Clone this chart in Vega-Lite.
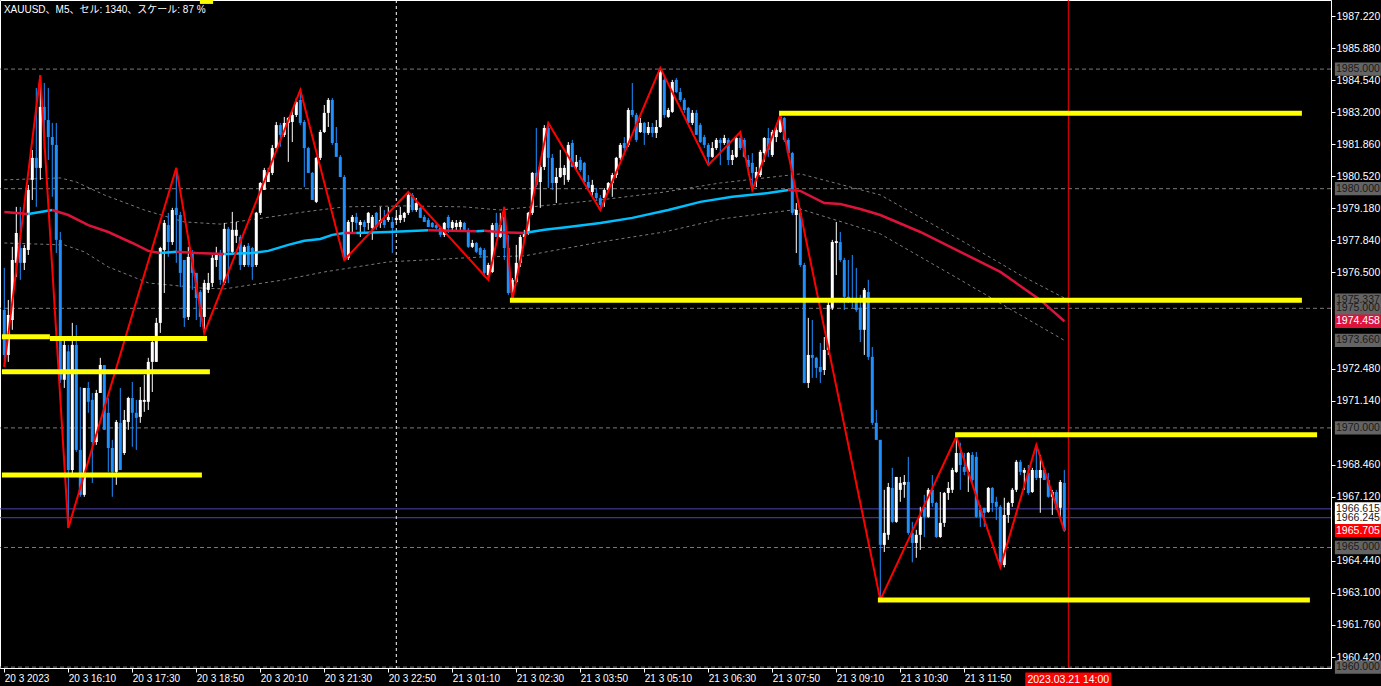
{
"$schema": "https://vega.github.io/schema/vega-lite/v6.json",
"width": 1331, "height": 668,
"autosize": {"type": "none"},
"padding": {"left": 0, "top": 0, "right": 50, "bottom": 18},
"background": "#000000",
"config": {
 "view": {"stroke": "#ffffff", "strokeWidth": 1},
 "axis": {"labelColor": "#ffffff", "tickColor": "#ffffff", "domainColor": "#ffffff", "labelFont": "Liberation Sans", "labelFontSize": 10.5, "grid": false, "tickSize": 4}
},
"datasets": {
 "candles": [
{"i":0,"o":1974.93,"h":1976.69,"l":1972.55,"c":1973.05},
{"i":1,"o":1973.05,"h":1975.35,"l":1972.76,"c":1974.72},
{"i":2,"o":1974.51,"h":1977.57,"l":1974.10,"c":1977.02},
{"i":3,"o":1976.90,"h":1979.24,"l":1976.31,"c":1978.15},
{"i":4,"o":1977.52,"h":1979.24,"l":1976.19,"c":1976.90},
{"i":5,"o":1976.90,"h":1977.65,"l":1976.60,"c":1977.52},
{"i":6,"o":1977.44,"h":1980.16,"l":1977.23,"c":1979.95},
{"i":7,"o":1980.37,"h":1981.62,"l":1979.53,"c":1981.29},
{"i":8,"o":1981.29,"h":1984.21,"l":1979.24,"c":1980.87},
{"i":9,"o":1980.87,"h":1984.75,"l":1980.37,"c":1983.42},
{"i":10,"o":1983.42,"h":1984.42,"l":1981.62,"c":1982.87},
{"i":11,"o":1982.87,"h":1984.21,"l":1981.20,"c":1982.16},
{"i":12,"o":1982.16,"h":1982.75,"l":1979.66,"c":1981.83},
{"i":13,"o":1981.83,"h":1982.75,"l":1977.31,"c":1977.86},
{"i":14,"o":1977.86,"h":1978.19,"l":1971.88,"c":1972.01},
{"i":15,"o":1972.01,"h":1973.68,"l":1971.67,"c":1973.47},
{"i":16,"o":1973.20,"h":1973.47,"l":1965.82,"c":1968.24},
{"i":17,"o":1968.24,"h":1974.39,"l":1967.95,"c":1973.47},
{"i":18,"o":1973.47,"h":1974.30,"l":1969.00,"c":1969.08},
{"i":19,"o":1969.08,"h":1971.71,"l":1967.12,"c":1967.20},
{"i":20,"o":1967.20,"h":1971.67,"l":1967.12,"c":1971.67},
{"i":21,"o":1971.67,"h":1971.92,"l":1970.63,"c":1971.09},
{"i":22,"o":1971.17,"h":1971.46,"l":1967.70,"c":1969.41},
{"i":23,"o":1969.41,"h":1971.59,"l":1969.29,"c":1971.46},
{"i":24,"o":1971.46,"h":1972.93,"l":1971.46,"c":1972.63},
{"i":25,"o":1972.63,"h":1972.63,"l":1969.92,"c":1969.92},
{"i":26,"o":1970.63,"h":1971.25,"l":1968.16,"c":1969.16},
{"i":27,"o":1969.16,"h":1969.50,"l":1967.12,"c":1968.16},
{"i":28,"o":1968.16,"h":1970.33,"l":1967.62,"c":1970.25},
{"i":29,"o":1970.21,"h":1971.67,"l":1968.24,"c":1968.24},
{"i":30,"o":1968.95,"h":1970.75,"l":1968.87,"c":1970.33},
{"i":31,"o":1970.25,"h":1971.30,"l":1969.92,"c":1971.25},
{"i":32,"o":1971.25,"h":1971.92,"l":1969.21,"c":1970.63},
{"i":33,"o":1970.63,"h":1971.17,"l":1969.08,"c":1970.42},
{"i":34,"o":1970.46,"h":1971.71,"l":1970.21,"c":1971.17},
{"i":35,"o":1971.09,"h":1972.21,"l":1970.67,"c":1971.17},
{"i":36,"o":1971.09,"h":1972.93,"l":1970.75,"c":1972.76},
{"i":37,"o":1972.76,"h":1973.80,"l":1971.50,"c":1973.59},
{"i":38,"o":1972.76,"h":1974.60,"l":1972.76,"c":1974.39},
{"i":39,"o":1974.39,"h":1977.57,"l":1973.97,"c":1977.52},
{"i":40,"o":1977.44,"h":1978.69,"l":1975.64,"c":1978.57},
{"i":41,"o":1978.48,"h":1978.99,"l":1977.15,"c":1977.77},
{"i":42,"o":1977.77,"h":1979.20,"l":1977.65,"c":1979.11},
{"i":43,"o":1979.20,"h":1980.87,"l":1976.90,"c":1978.90},
{"i":44,"o":1978.90,"h":1979.03,"l":1975.89,"c":1976.48},
{"i":45,"o":1977.02,"h":1977.02,"l":1974.22,"c":1974.60},
{"i":46,"o":1974.64,"h":1977.57,"l":1974.51,"c":1977.15},
{"i":47,"o":1977.31,"h":1977.44,"l":1975.77,"c":1976.48},
{"i":48,"o":1976.48,"h":1976.48,"l":1974.51,"c":1975.43},
{"i":49,"o":1975.68,"h":1975.77,"l":1974.22,"c":1974.64},
{"i":50,"o":1974.64,"h":1976.19,"l":1973.97,"c":1976.06},
{"i":51,"o":1975.77,"h":1976.48,"l":1975.64,"c":1976.06},
{"i":52,"o":1976.06,"h":1977.23,"l":1975.89,"c":1977.11},
{"i":53,"o":1977.02,"h":1977.57,"l":1976.73,"c":1977.23},
{"i":54,"o":1977.23,"h":1977.44,"l":1975.98,"c":1976.19},
{"i":55,"o":1976.06,"h":1978.57,"l":1975.98,"c":1978.32},
{"i":56,"o":1978.32,"h":1978.40,"l":1976.06,"c":1977.36},
{"i":57,"o":1977.36,"h":1979.03,"l":1977.31,"c":1978.28},
{"i":58,"o":1978.03,"h":1978.61,"l":1977.73,"c":1978.28},
{"i":59,"o":1977.98,"h":1978.07,"l":1976.60,"c":1976.81},
{"i":60,"o":1976.81,"h":1977.65,"l":1976.73,"c":1977.57},
{"i":61,"o":1977.61,"h":1977.73,"l":1976.73,"c":1976.81},
{"i":62,"o":1977.52,"h":1977.57,"l":1976.19,"c":1976.73},
{"i":63,"o":1976.81,"h":1979.03,"l":1976.73,"c":1978.99},
{"i":64,"o":1978.99,"h":1980.28,"l":1978.90,"c":1980.24},
{"i":65,"o":1979.95,"h":1980.87,"l":1979.95,"c":1980.78},
{"i":66,"o":1980.28,"h":1980.87,"l":1980.28,"c":1980.70},
{"i":67,"o":1980.66,"h":1981.83,"l":1980.57,"c":1981.70},
{"i":68,"o":1981.70,"h":1982.79,"l":1981.62,"c":1982.66},
{"i":69,"o":1982.66,"h":1982.75,"l":1981.75,"c":1982.25},
{"i":70,"o":1982.25,"h":1983.00,"l":1982.16,"c":1982.75},
{"i":71,"o":1982.75,"h":1983.00,"l":1981.12,"c":1982.96},
{"i":72,"o":1982.79,"h":1983.29,"l":1981.95,"c":1983.08},
{"i":73,"o":1983.08,"h":1983.79,"l":1983.00,"c":1983.63},
{"i":74,"o":1983.71,"h":1984.13,"l":1982.66,"c":1982.75},
{"i":75,"o":1982.79,"h":1982.87,"l":1980.07,"c":1981.70},
{"i":76,"o":1981.70,"h":1981.75,"l":1980.66,"c":1980.66},
{"i":77,"o":1980.66,"h":1980.70,"l":1979.53,"c":1979.53},
{"i":78,"o":1979.45,"h":1981.33,"l":1979.40,"c":1981.29},
{"i":79,"o":1981.29,"h":1982.46,"l":1981.20,"c":1982.37},
{"i":80,"o":1982.37,"h":1983.50,"l":1982.33,"c":1983.17},
{"i":81,"o":1983.17,"h":1983.79,"l":1982.58,"c":1983.71},
{"i":82,"o":1983.71,"h":1983.79,"l":1981.83,"c":1981.91},
{"i":83,"o":1981.91,"h":1982.58,"l":1981.33,"c":1981.33},
{"i":84,"o":1981.33,"h":1981.41,"l":1980.49,"c":1980.49},
{"i":85,"o":1980.49,"h":1980.57,"l":1977.02,"c":1977.11},
{"i":86,"o":1977.11,"h":1978.69,"l":1977.02,"c":1978.61},
{"i":87,"o":1978.61,"h":1978.90,"l":1978.15,"c":1978.82},
{"i":88,"o":1978.82,"h":1978.99,"l":1978.28,"c":1978.57},
{"i":89,"o":1978.48,"h":1978.69,"l":1977.98,"c":1978.61},
{"i":90,"o":1978.61,"h":1978.69,"l":1978.15,"c":1978.40},
{"i":91,"o":1978.57,"h":1979.03,"l":1978.28,"c":1978.99},
{"i":92,"o":1978.36,"h":1978.90,"l":1977.86,"c":1978.82},
{"i":93,"o":1978.99,"h":1979.03,"l":1978.28,"c":1978.40},
{"i":94,"o":1978.57,"h":1979.24,"l":1978.36,"c":1978.69},
{"i":95,"o":1978.69,"h":1979.11,"l":1978.36,"c":1978.48},
{"i":96,"o":1978.69,"h":1979.24,"l":1978.61,"c":1978.82},
{"i":97,"o":1978.61,"h":1978.82,"l":1977.31,"c":1978.36},
{"i":98,"o":1978.69,"h":1978.99,"l":1978.57,"c":1978.78},
{"i":99,"o":1978.69,"h":1979.24,"l":1978.57,"c":1978.90},
{"i":100,"o":1978.78,"h":1979.03,"l":1978.61,"c":1978.99},
{"i":101,"o":1978.99,"h":1979.86,"l":1978.90,"c":1979.74},
{"i":102,"o":1979.74,"h":1979.82,"l":1979.03,"c":1979.11},
{"i":103,"o":1979.11,"h":1979.61,"l":1979.03,"c":1979.40},
{"i":104,"o":1979.20,"h":1979.24,"l":1978.78,"c":1978.78},
{"i":105,"o":1978.82,"h":1978.90,"l":1978.61,"c":1978.61},
{"i":106,"o":1978.69,"h":1978.78,"l":1978.40,"c":1978.40},
{"i":107,"o":1978.57,"h":1978.61,"l":1978.36,"c":1978.40},
{"i":108,"o":1978.48,"h":1978.57,"l":1978.28,"c":1978.36},
{"i":109,"o":1978.36,"h":1978.40,"l":1977.98,"c":1978.07},
{"i":110,"o":1978.07,"h":1978.61,"l":1977.98,"c":1978.57},
{"i":111,"o":1978.82,"h":1978.90,"l":1978.15,"c":1978.36},
{"i":112,"o":1978.36,"h":1978.69,"l":1978.19,"c":1978.61},
{"i":113,"o":1978.40,"h":1978.69,"l":1978.19,"c":1978.57},
{"i":114,"o":1978.40,"h":1978.69,"l":1978.28,"c":1978.61},
{"i":115,"o":1978.57,"h":1978.61,"l":1978.19,"c":1978.28},
{"i":116,"o":1978.28,"h":1978.36,"l":1977.52,"c":1977.57},
{"i":117,"o":1977.57,"h":1977.86,"l":1977.52,"c":1977.73},
{"i":118,"o":1977.73,"h":1977.77,"l":1977.31,"c":1977.36},
{"i":119,"o":1977.52,"h":1977.57,"l":1977.15,"c":1977.23},
{"i":120,"o":1977.44,"h":1977.52,"l":1976.31,"c":1976.48},
{"i":121,"o":1976.39,"h":1976.90,"l":1976.19,"c":1976.81},
{"i":122,"o":1976.52,"h":1978.57,"l":1976.48,"c":1978.48},
{"i":123,"o":1978.57,"h":1978.99,"l":1977.98,"c":1977.98},
{"i":124,"o":1977.98,"h":1978.99,"l":1977.94,"c":1978.48},
{"i":125,"o":1978.82,"h":1979.24,"l":1977.02,"c":1977.52},
{"i":126,"o":1977.52,"h":1978.07,"l":1975.56,"c":1975.64},
{"i":127,"o":1975.64,"h":1976.27,"l":1975.35,"c":1976.19},
{"i":128,"o":1976.10,"h":1977.65,"l":1976.06,"c":1976.90},
{"i":129,"o":1976.90,"h":1978.07,"l":1976.73,"c":1977.98},
{"i":130,"o":1977.98,"h":1978.28,"l":1977.77,"c":1978.19},
{"i":131,"o":1978.15,"h":1979.03,"l":1978.07,"c":1978.99},
{"i":132,"o":1978.99,"h":1980.70,"l":1978.90,"c":1980.66},
{"i":133,"o":1980.66,"h":1982.54,"l":1980.07,"c":1980.16},
{"i":134,"o":1980.28,"h":1980.99,"l":1979.20,"c":1980.91},
{"i":135,"o":1980.91,"h":1982.66,"l":1980.78,"c":1982.54},
{"i":136,"o":1982.54,"h":1982.79,"l":1980.03,"c":1981.29},
{"i":137,"o":1981.29,"h":1981.45,"l":1979.95,"c":1980.24},
{"i":138,"o":1980.24,"h":1980.87,"l":1979.40,"c":1980.49},
{"i":139,"o":1980.49,"h":1981.62,"l":1980.45,"c":1980.87},
{"i":140,"o":1980.57,"h":1980.99,"l":1980.16,"c":1980.87},
{"i":141,"o":1980.37,"h":1981.95,"l":1980.28,"c":1981.83},
{"i":142,"o":1981.91,"h":1982.04,"l":1980.91,"c":1980.91},
{"i":143,"o":1980.91,"h":1981.41,"l":1980.78,"c":1981.12},
{"i":144,"o":1981.20,"h":1981.33,"l":1980.70,"c":1980.78},
{"i":145,"o":1981.08,"h":1981.12,"l":1980.16,"c":1980.28},
{"i":146,"o":1980.28,"h":1980.57,"l":1979.95,"c":1980.03},
{"i":147,"o":1979.86,"h":1980.37,"l":1979.66,"c":1980.16},
{"i":148,"o":1979.82,"h":1980.03,"l":1979.53,"c":1979.61},
{"i":149,"o":1979.61,"h":1979.74,"l":1979.11,"c":1979.32},
{"i":150,"o":1979.61,"h":1980.03,"l":1979.24,"c":1979.95},
{"i":151,"o":1979.95,"h":1980.28,"l":1979.86,"c":1980.24},
{"i":152,"o":1980.24,"h":1980.66,"l":1979.66,"c":1980.57},
{"i":153,"o":1980.57,"h":1981.33,"l":1980.45,"c":1981.29},
{"i":154,"o":1981.29,"h":1981.91,"l":1981.20,"c":1981.83},
{"i":155,"o":1981.91,"h":1982.16,"l":1981.54,"c":1981.70},
{"i":156,"o":1981.83,"h":1983.38,"l":1981.75,"c":1983.29},
{"i":157,"o":1983.29,"h":1984.42,"l":1983.00,"c":1983.08},
{"i":158,"o":1983.08,"h":1983.17,"l":1981.95,"c":1982.04},
{"i":159,"o":1982.37,"h":1982.96,"l":1982.33,"c":1982.75},
{"i":160,"o":1982.75,"h":1982.79,"l":1981.83,"c":1982.33},
{"i":161,"o":1982.33,"h":1982.79,"l":1982.25,"c":1982.58},
{"i":162,"o":1982.58,"h":1982.75,"l":1982.16,"c":1982.33},
{"i":163,"o":1982.33,"h":1982.87,"l":1982.12,"c":1982.58},
{"i":164,"o":1982.58,"h":1985.05,"l":1982.54,"c":1984.88},
{"i":165,"o":1984.55,"h":1984.75,"l":1982.96,"c":1983.08},
{"i":166,"o":1983.00,"h":1983.38,"l":1982.96,"c":1983.29},
{"i":167,"o":1983.21,"h":1984.55,"l":1983.17,"c":1984.46},
{"i":168,"o":1984.55,"h":1984.63,"l":1984.00,"c":1984.04},
{"i":169,"o":1984.04,"h":1984.21,"l":1983.63,"c":1983.71},
{"i":170,"o":1983.71,"h":1983.79,"l":1983.17,"c":1983.29},
{"i":171,"o":1983.38,"h":1983.42,"l":1982.66,"c":1982.75},
{"i":172,"o":1982.75,"h":1983.29,"l":1982.66,"c":1983.17},
{"i":173,"o":1983.17,"h":1983.29,"l":1982.25,"c":1982.25},
{"i":174,"o":1982.66,"h":1982.75,"l":1981.91,"c":1981.95},
{"i":175,"o":1982.16,"h":1982.25,"l":1981.70,"c":1981.83},
{"i":176,"o":1981.83,"h":1981.91,"l":1980.99,"c":1981.33},
{"i":177,"o":1981.33,"h":1981.95,"l":1981.29,"c":1981.70},
{"i":178,"o":1981.70,"h":1982.12,"l":1981.62,"c":1982.04},
{"i":179,"o":1982.04,"h":1982.12,"l":1980.99,"c":1981.91},
{"i":180,"o":1981.91,"h":1982.25,"l":1981.83,"c":1982.12},
{"i":181,"o":1982.04,"h":1982.12,"l":1980.99,"c":1981.20},
{"i":182,"o":1981.20,"h":1981.62,"l":1980.99,"c":1981.41},
{"i":183,"o":1981.33,"h":1982.16,"l":1981.29,"c":1982.12},
{"i":184,"o":1982.12,"h":1982.37,"l":1981.62,"c":1981.70},
{"i":185,"o":1982.04,"h":1982.12,"l":1981.29,"c":1981.33},
{"i":186,"o":1981.20,"h":1981.41,"l":1980.57,"c":1980.91},
{"i":187,"o":1981.08,"h":1981.49,"l":1979.95,"c":1980.66},
{"i":188,"o":1980.45,"h":1980.91,"l":1980.07,"c":1980.70},
{"i":189,"o":1980.57,"h":1981.62,"l":1980.49,"c":1981.54},
{"i":190,"o":1981.49,"h":1982.16,"l":1981.12,"c":1982.12},
{"i":191,"o":1982.12,"h":1982.54,"l":1981.33,"c":1981.62},
{"i":192,"o":1981.41,"h":1982.46,"l":1981.33,"c":1982.37},
{"i":193,"o":1982.16,"h":1982.58,"l":1981.95,"c":1982.46},
{"i":194,"o":1982.37,"h":1983.08,"l":1982.33,"c":1983.00},
{"i":195,"o":1982.96,"h":1983.00,"l":1981.95,"c":1982.04},
{"i":196,"o":1982.04,"h":1982.12,"l":1981.33,"c":1981.49},
{"i":197,"o":1981.49,"h":1981.54,"l":1978.90,"c":1978.99},
{"i":198,"o":1978.90,"h":1979.40,"l":1977.31,"c":1979.11},
{"i":199,"o":1978.99,"h":1979.20,"l":1976.73,"c":1976.81},
{"i":200,"o":1976.81,"h":1976.90,"l":1971.88,"c":1971.88},
{"i":201,"o":1971.88,"h":1974.60,"l":1971.67,"c":1973.05},
{"i":202,"o":1973.05,"h":1974.51,"l":1972.09,"c":1972.93},
{"i":203,"o":1972.93,"h":1972.97,"l":1972.09,"c":1972.51},
{"i":204,"o":1972.55,"h":1973.55,"l":1971.88,"c":1972.34},
{"i":205,"o":1972.42,"h":1973.80,"l":1972.21,"c":1973.26},
{"i":206,"o":1973.26,"h":1975.27,"l":1973.05,"c":1975.14},
{"i":207,"o":1975.02,"h":1977.86,"l":1974.93,"c":1977.77},
{"i":208,"o":1977.73,"h":1978.61,"l":1976.39,"c":1977.81},
{"i":209,"o":1977.77,"h":1978.19,"l":1976.94,"c":1977.02},
{"i":210,"o":1977.02,"h":1977.11,"l":1974.93,"c":1975.48},
{"i":211,"o":1975.48,"h":1977.02,"l":1975.22,"c":1975.27},
{"i":212,"o":1975.43,"h":1977.23,"l":1975.02,"c":1975.35},
{"i":213,"o":1975.35,"h":1976.69,"l":1974.85,"c":1974.93},
{"i":214,"o":1975.02,"h":1975.56,"l":1973.59,"c":1974.10},
{"i":215,"o":1974.10,"h":1975.85,"l":1973.05,"c":1975.77},
{"i":216,"o":1975.68,"h":1976.19,"l":1972.84,"c":1972.97},
{"i":217,"o":1972.97,"h":1973.38,"l":1970.12,"c":1970.21},
{"i":218,"o":1970.21,"h":1970.75,"l":1969.50,"c":1969.50},
{"i":219,"o":1969.50,"h":1969.50,"l":1962.81,"c":1965.11},
{"i":220,"o":1965.11,"h":1967.41,"l":1964.81,"c":1965.61},
{"i":221,"o":1965.53,"h":1967.70,"l":1965.32,"c":1967.53},
{"i":222,"o":1967.49,"h":1968.33,"l":1966.03,"c":1966.07},
{"i":223,"o":1966.07,"h":1967.95,"l":1966.03,"c":1967.95},
{"i":224,"o":1967.41,"h":1967.95,"l":1966.91,"c":1967.70},
{"i":225,"o":1967.62,"h":1968.03,"l":1967.08,"c":1967.74},
{"i":226,"o":1967.74,"h":1968.79,"l":1965.53,"c":1965.61},
{"i":227,"o":1965.61,"h":1966.07,"l":1964.38,"c":1965.19},
{"i":228,"o":1965.19,"h":1965.74,"l":1964.57,"c":1965.53},
{"i":229,"o":1965.53,"h":1966.70,"l":1964.90,"c":1966.28},
{"i":230,"o":1966.70,"h":1967.20,"l":1965.44,"c":1966.28},
{"i":231,"o":1966.28,"h":1967.49,"l":1966.24,"c":1967.41},
{"i":232,"o":1967.41,"h":1968.03,"l":1966.70,"c":1966.86},
{"i":233,"o":1966.86,"h":1966.91,"l":1965.40,"c":1965.44},
{"i":234,"o":1965.44,"h":1967.32,"l":1965.40,"c":1966.03},
{"i":235,"o":1966.03,"h":1967.32,"l":1965.86,"c":1967.28},
{"i":236,"o":1967.28,"h":1967.74,"l":1966.99,"c":1967.49},
{"i":237,"o":1967.41,"h":1968.33,"l":1967.28,"c":1968.24},
{"i":238,"o":1968.16,"h":1969.63,"l":1968.12,"c":1968.95},
{"i":239,"o":1968.95,"h":1969.38,"l":1967.41,"c":1968.45},
{"i":240,"o":1968.37,"h":1968.95,"l":1968.03,"c":1968.16},
{"i":241,"o":1968.16,"h":1968.99,"l":1967.32,"c":1968.95},
{"i":242,"o":1968.87,"h":1968.99,"l":1967.70,"c":1967.82},
{"i":243,"o":1968.79,"h":1968.99,"l":1966.24,"c":1966.28},
{"i":244,"o":1966.57,"h":1966.78,"l":1965.86,"c":1966.28},
{"i":245,"o":1966.66,"h":1966.66,"l":1965.86,"c":1966.45},
{"i":246,"o":1966.49,"h":1967.53,"l":1966.45,"c":1967.49},
{"i":247,"o":1967.49,"h":1967.53,"l":1966.49,"c":1966.86},
{"i":248,"o":1966.91,"h":1967.12,"l":1966.15,"c":1966.70},
{"i":249,"o":1966.70,"h":1966.78,"l":1964.17,"c":1964.38},
{"i":250,"o":1964.27,"h":1967.08,"l":1964.17,"c":1966.36},
{"i":251,"o":1966.36,"h":1966.91,"l":1966.03,"c":1966.86},
{"i":252,"o":1966.86,"h":1967.49,"l":1966.70,"c":1967.41},
{"i":253,"o":1967.41,"h":1968.66,"l":1967.32,"c":1968.58},
{"i":254,"o":1968.58,"h":1968.66,"l":1968.03,"c":1968.16},
{"i":255,"o":1968.12,"h":1968.33,"l":1967.41,"c":1968.24},
{"i":256,"o":1968.12,"h":1968.45,"l":1967.20,"c":1967.28},
{"i":257,"o":1967.32,"h":1968.33,"l":1967.28,"c":1968.24},
{"i":258,"o":1968.24,"h":1969.29,"l":1967.82,"c":1967.91},
{"i":259,"o":1967.91,"h":1968.87,"l":1966.45,"c":1968.24},
{"i":260,"o":1968.24,"h":1968.33,"l":1967.82,"c":1967.82},
{"i":261,"o":1967.82,"h":1968.12,"l":1967.08,"c":1967.12},
{"i":262,"o":1967.12,"h":1967.41,"l":1966.36,"c":1967.32},
{"i":263,"o":1967.32,"h":1967.41,"l":1966.57,"c":1966.66},
{"i":264,"o":1966.66,"h":1967.82,"l":1966.28,"c":1967.74},
{"i":265,"o":1967.70,"h":1968.24,"l":1965.65,"c":1965.705}
 ],
 "ma": [
{"i":0,"v":1979.03,"s":"a","d":"down"},{"i":6,"v":1978.94,"s":"a","d":"down"},
{"i":6,"v":1978.94,"s":"b","d":"up"},{"i":9,"v":1979.03,"s":"b","d":"up"},{"i":12,"v":1979.11,"s":"b","d":"up"},
{"i":12,"v":1979.11,"s":"c","d":"down"},{"i":16,"v":1978.90,"s":"c","d":"down"},{"i":21,"v":1978.48,"s":"c","d":"down"},{"i":26,"v":1978.19,"s":"c","d":"down"},{"i":32,"v":1977.73,"s":"c","d":"down"},{"i":36,"v":1977.40,"s":"c","d":"down"},{"i":39,"v":1977.31,"s":"c","d":"down"},
{"i":39,"v":1977.31,"s":"d","d":"up"},{"i":43,"v":1977.36,"s":"d","d":"up"},
{"i":43,"v":1977.36,"s":"e","d":"down"},{"i":48,"v":1977.31,"s":"e","d":"down"},{"i":55,"v":1977.27,"s":"e","d":"down"},
{"i":55,"v":1977.27,"s":"f","d":"up"},{"i":62,"v":1977.31,"s":"f","d":"up"},{"i":66,"v":1977.40,"s":"f","d":"up"},{"i":71,"v":1977.65,"s":"f","d":"up"},{"i":75,"v":1977.82,"s":"f","d":"up"},{"i":79,"v":1977.90,"s":"f","d":"up"},{"i":82,"v":1978.07,"s":"f","d":"up"},{"i":85,"v":1978.15,"s":"f","d":"up"},
{"i":85,"v":1978.15,"s":"g","d":"down"},{"i":88,"v":1978.15,"s":"g","d":"down"},
{"i":88,"v":1978.15,"s":"h","d":"up"},{"i":96,"v":1978.19,"s":"h","d":"up"},{"i":106,"v":1978.26,"s":"h","d":"up"},
{"i":106,"v":1978.26,"s":"j","d":"down"},{"i":112,"v":1978.24,"s":"j","d":"down"},{"i":118,"v":1978.22,"s":"j","d":"down"},
{"i":118,"v":1978.22,"s":"k","d":"up"},{"i":120,"v":1978.24,"s":"k","d":"up"},
{"i":120,"v":1978.24,"s":"m","d":"down"},{"i":125,"v":1978.17,"s":"m","d":"down"},{"i":130,"v":1978.15,"s":"m","d":"down"},
{"i":130,"v":1978.15,"s":"n","d":"up"},{"i":135,"v":1978.28,"s":"n","d":"up"},{"i":141,"v":1978.40,"s":"n","d":"up"},{"i":149,"v":1978.57,"s":"n","d":"up"},{"i":157,"v":1978.78,"s":"n","d":"up"},{"i":166,"v":1979.11,"s":"n","d":"up"},{"i":174,"v":1979.45,"s":"n","d":"up"},{"i":182,"v":1979.66,"s":"n","d":"up"},{"i":191,"v":1979.82,"s":"n","d":"up"},{"i":196,"v":1979.95,"s":"n","d":"up"},
{"i":196,"v":1979.95,"s":"p","d":"down"},{"i":199,"v":1979.91,"s":"p","d":"down"},{"i":205,"v":1979.40,"s":"p","d":"down"},{"i":209,"v":1979.36,"s":"p","d":"down"},{"i":214,"v":1979.15,"s":"p","d":"down"},{"i":219,"v":1978.90,"s":"p","d":"down"},{"i":229,"v":1978.19,"s":"p","d":"down"},{"i":239,"v":1977.36,"s":"p","d":"down"},{"i":249,"v":1976.52,"s":"p","d":"down"},{"i":259,"v":1975.35,"s":"p","d":"down"},{"i":265,"v":1974.458,"s":"p","d":"down"}
 ],
 "bands": [
{"i":0,"v":1980.37,"b":"u"},{"i":14,"v":1980.45,"b":"u"},{"i":18,"v":1980.28,"b":"u"},{"i":25,"v":1979.74,"b":"u"},{"i":35,"v":1979.11,"b":"u"},{"i":45,"v":1978.61,"b":"u"},{"i":54,"v":1978.52,"b":"u"},{"i":65,"v":1978.78,"b":"u"},{"i":75,"v":1979.03,"b":"u"},{"i":85,"v":1979.24,"b":"u"},{"i":100,"v":1979.28,"b":"u"},{"i":115,"v":1979.24,"b":"u"},{"i":124,"v":1979.11,"b":"u"},{"i":149,"v":1979.53,"b":"u"},{"i":165,"v":1979.86,"b":"u"},{"i":179,"v":1980.24,"b":"u"},{"i":199,"v":1980.62,"b":"u"},{"i":219,"v":1979.74,"b":"u"},{"i":239,"v":1977.86,"b":"u"},{"i":254,"v":1976.39,"b":"u"},{"i":265,"v":1975.43,"b":"u"},
{"i":0,"v":1977.73,"b":"l"},{"i":15,"v":1977.65,"b":"l"},{"i":20,"v":1977.36,"b":"l"},{"i":26,"v":1976.73,"b":"l"},{"i":36,"v":1976.06,"b":"l"},{"i":49,"v":1975.85,"b":"l"},{"i":55,"v":1975.81,"b":"l"},{"i":70,"v":1976.19,"b":"l"},{"i":80,"v":1976.52,"b":"l"},{"i":96,"v":1976.94,"b":"l"},{"i":120,"v":1977.15,"b":"l"},{"i":130,"v":1977.19,"b":"l"},{"i":149,"v":1977.77,"b":"l"},{"i":165,"v":1978.19,"b":"l"},{"i":179,"v":1978.73,"b":"l"},{"i":199,"v":1979.15,"b":"l"},{"i":219,"v":1978.11,"b":"l"},{"i":239,"v":1976.19,"b":"l"},{"i":254,"v":1974.72,"b":"l"},{"i":265,"v":1973.66,"b":"l"}
 ],
 "zz": [
{"i":0,"p":1972.55},{"i":9,"p":1984.75},{"i":16,"p":1965.82},{"i":43,"p":1980.87},{"i":50,"p":1973.97},{"i":74,"p":1984.13},{"i":85,"p":1977.02},{"i":101,"p":1979.86},{"i":121,"p":1976.19},{"i":125,"p":1979.24},{"i":127,"p":1975.35},{"i":136,"p":1982.75},{"i":149,"p":1979.11},{"i":164,"p":1985.05},{"i":176,"p":1980.99},{"i":184,"p":1982.37},{"i":187,"p":1979.95},{"i":194,"p":1983.08},{"i":219,"p":1962.81},{"i":238,"p":1969.63},{"i":249,"p":1964.17},{"i":258,"p":1969.29},{"i":265,"p":1965.705}
 ],
 "yel": [
{"a":-0.6,"b":11.4,"p":1973.81},{"a":11.4,"b":50.7,"p":1973.74},{"a":-0.6,"b":51.4,"p":1972.35},{"a":-0.6,"b":49.4,"p":1968.03},{"a":193.7,"b":324.4,"p":1983.15},{"a":126.4,"b":324.4,"p":1975.337},{"a":237.7,"b":328.2,"p":1969.71},{"a":218.4,"b":326.4,"p":1962.80},{"a":48.9,"b":52.2,"p":1987.83}
 ],
 "levels": [{"p":1985},{"p":1980},{"p":1975},{"p":1970},{"p":1965},{"p":1960}],
 "hl": [{"p":1966.615},{"p":1966.245}],
 "boxes": [
{"p":1975.337,"t":"1975.337","k":"gray"},
{"p":1975.0,"t":"1975.000","k":"gray"},
{"p":1974.458,"t":"1974.458","k":"crimson"},
{"p":1973.66,"t":"1973.660","k":"gray"},
{"p":1985.0,"t":"1985.000","k":"gray"},
{"p":1980.0,"t":"1980.000","k":"gray"},
{"p":1970.0,"t":"1970.000","k":"gray"},
{"p":1966.245,"t":"1966.245","k":"white"},
{"p":1966.615,"t":"1966.615","k":"white"},
{"p":1965.705,"t":"1965.705","k":"red"},
{"p":1965.0,"t":"1965.000","k":"gray"},
{"p":1960.0,"t":"1960.000","k":"gray"}
 ]
},
"layer": [
 {"data": {"name": "levels"}, "mark": {"type": "rule", "color": "#7a7a7a", "strokeDash": [4, 3], "strokeWidth": 1},
  "encoding": {"y": {"field": "p", "type": "quantitative", "title": null, "scale": {"domain": [1959.962, 1987.889], "nice": false, "zero": false}}}},
 {"data": {"name": "hl"}, "mark": {"type": "rule", "color": "#4b45b0", "strokeWidth": 1},
  "encoding": {"y": {"field": "p", "type": "quantitative", "title": null}}},
 {"data": {"values": [{"i": 98}]}, "mark": {"type": "rule", "color": "#ffffff", "strokeDash": [3, 3], "strokeWidth": 1},
  "encoding": {"x": {"field": "i", "type": "quantitative", "title": null}}},
 {"data": {"values": [{"i": 266}]}, "mark": {"type": "rule", "color": "#ff0000", "strokeWidth": 1},
  "encoding": {"x": {"field": "i", "type": "quantitative", "title": null}}},
 {"data": {"name": "bands"}, "mark": {"type": "line", "color": "#7a7a7a", "strokeDash": [3, 3], "strokeWidth": 1},
  "encoding": {"x": {"field": "i", "type": "quantitative", "title": null}, "y": {"field": "v", "type": "quantitative", "title": null}, "detail": {"field": "b"}}},
 {"data": {"name": "candles"}, "mark": {"type": "rule", "strokeWidth": 1},
  "encoding": {
   "x": {"field": "i", "type": "quantitative", "title": null,
    "scale": {"domain": [-1.075, 331.675], "nice": false, "zero": false, "padding": 0},
    "axis": {"values": [0,16,32,48,64,80,96,112,128,144,160,176,192,208,224,240], "labelAlign": "left", "labelPadding": 1, "labelBaseline": "top", "labelOverlap": false, "labelFlush": false, "labelFontSize": 10,
     "labelExpr": "['20 3 2023','20 3 16:10','20 3 17:30','20 3 18:50','20 3 20:10','20 3 21:30','20 3 22:50','21 3 01:10','21 3 02:30','21 3 03:50','21 3 05:10','21 3 06:30','21 3 07:50','21 3 09:10','21 3 10:30','21 3 11:50'][round(datum.value/16)]"}},
   "y": {"field": "l", "type": "quantitative", "title": null,
    "scale": {"domain": [1959.962, 1987.889], "nice": false, "zero": false},
    "axis": {"orient": "right", "values": [1987.22,1985.88,1984.54,1983.2,1981.86,1980.52,1979.18,1977.84,1976.5,1972.48,1971.14,1968.46,1967.12,1964.44,1963.1,1961.76,1960.42], "format": ".3f", "labelPadding": 1, "labelOverlap": false, "labelFlush": false, "labelBaseline": "middle"}},
   "y2": {"field": "h"},
   "color": {"condition": {"test": "datum.c >= datum.o", "value": "#ffffff"}, "value": "#1e90ff"}}},
 {"data": {"name": "candles"}, "mark": {"type": "bar", "size": 3},
  "encoding": {
   "x": {"field": "i", "type": "quantitative", "title": null},
   "y": {"field": "o", "type": "quantitative", "title": null},
   "y2": {"field": "c"},
   "color": {"condition": {"test": "datum.c >= datum.o", "value": "#ffffff"}, "value": "#1e90ff"}}},
 {"data": {"name": "ma"}, "mark": {"type": "line", "strokeWidth": 2.5},
  "encoding": {
   "x": {"field": "i", "type": "quantitative", "title": null},
   "y": {"field": "v", "type": "quantitative", "title": null},
   "detail": {"field": "s"},
   "color": {"field": "d", "type": "nominal", "scale": {"domain": ["up", "down"], "range": ["#00bfff", "#dc143c"]}, "legend": null}}},
 {"data": {"name": "zz"}, "mark": {"type": "line", "color": "#ff0000", "strokeWidth": 2},
  "encoding": {"x": {"field": "i", "type": "quantitative", "title": null}, "y": {"field": "p", "type": "quantitative", "title": null}}},
 {"data": {"name": "yel"}, "mark": {"type": "rule", "color": "#ffff00", "strokeWidth": 5, "strokeCap": "butt"},
  "encoding": {"x": {"field": "a", "type": "quantitative", "title": null}, "x2": {"field": "b"}, "y": {"field": "p", "type": "quantitative", "title": null}}},
 {"data": {"name": "boxes"}, "mark": {"type": "point", "shape": "M-1,-0.29H1V0.29H-1Z", "filled": true, "opacity": 1, "size": 2116},
  "encoding": {"x": {"datum": 338.4}, "y": {"field": "p", "type": "quantitative", "title": null},
   "fill": {"field": "k", "type": "nominal", "scale": {"domain": ["gray", "crimson", "white", "red"], "range": ["#646464", "#dc143c", "#ffffff", "#ff0000"]}, "legend": null}}},
 {"data": {"name": "boxes"}, "mark": {"type": "text", "align": "left", "baseline": "middle", "font": "Liberation Sans", "fontSize": 10.5},
  "encoding": {"x": {"datum": 332.93}, "y": {"field": "p", "type": "quantitative", "title": null}, "text": {"field": "t"},
   "color": {"condition": {"test": "datum.k == 'crimson' || datum.k == 'red'", "value": "#ffffff"}, "value": "#1a1a1a"}}},
 {"data": {"values": [{"i": 266, "t": "2023.03.21 14:00"}]}, "mark": {"type": "point", "shape": "M-1,-0.174H1V0.174H-1Z", "filled": true, "opacity": 1, "size": 7396, "color": "#ff0000"},
  "encoding": {"x": {"field": "i", "type": "quantitative", "title": null}, "y": {"datum": 1959.461}}},
 {"data": {"values": [{"i": 266, "t": "2023.03.21 14:00"}]}, "mark": {"type": "text", "align": "center", "baseline": "middle", "font": "Liberation Sans", "fontSize": 10.5, "color": "#ffffff"},
  "encoding": {"x": {"field": "i", "type": "quantitative", "title": null}, "y": {"datum": 1959.48}, "text": {"field": "t"}}},
 {"data": {"values": [{"t": "XAUUSD、M5、セル: 1340、スケール: 87 %"}]}, "mark": {"type": "text", "align": "left", "baseline": "middle", "font": "Liberation Sans, Noto Sans CJK JP", "fontSize": 10, "color": "#ffffff"},
  "encoding": {"x": {"datum": -0.1}, "y": {"datum": 1987.47}, "text": {"field": "t"}}}
]
}
